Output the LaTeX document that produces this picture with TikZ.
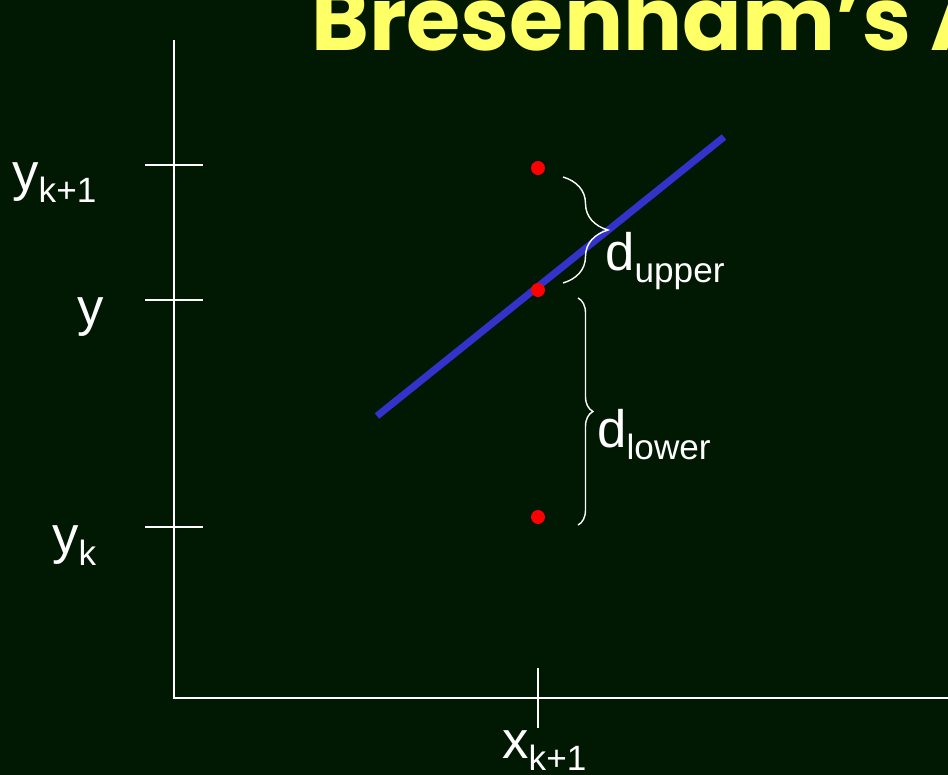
\documentclass[tikz,border=0pt]{standalone}
\usepackage{fontspec}
\setmainfont{Liberation Sans}
\newfontfamily\titlefont{Poppins}
\usepackage{xcolor}
\usepackage{tikz}
\usetikzlibrary{decorations.pathreplacing, positioning, calc}
\definecolor{boardgreen}{RGB}{1, 24, 3}
\definecolor{titleyellow}{RGB}{255, 255, 102}
\definecolor{lineblue}{RGB}{51, 51, 204}
\newcommand{\sublbl}[2]{#1\raisebox{-7pt}{\fontsize{20}{20}\selectfont #2}}

\begin{document}
\begin{tikzpicture}[
    x=0.02cm, y=-0.02cm,
    axisline/.style={draw=white, line width=1.1pt},
    tickmark/.style={draw=white, line width=1.1pt},
    axislabel/.style={text=white, inner sep=0pt, anchor=base west, font=\fontsize{30}{30}\selectfont},
    pixel/.style={circle, fill=red, inner sep=0pt, minimum size=0.28cm},
    bracemark/.style={draw=white, line width=0.8pt, decorate, decoration={brace, amplitude=#1}}
]
    \useasboundingbox (0,0) rectangle (948,775);
    \clip (0,0) rectangle (948,775);
    \fill[boardgreen] (0,0) rectangle (948,775);

    % title
    \node[anchor=base west, inner sep=0pt, text=titleyellow, font=\titlefont\bfseries\fontsize{50}{50}\selectfont] (title) at (311,50) {Bresenham’s A};

    % axes
    \coordinate (origin) at (174,698);
    \coordinate (ytop) at (174,40);
    \coordinate (xend) at (948,698);
    \draw[axisline] (ytop) -- (origin) -- (xend);

    % ticks
    \foreach \ty in {165, 300, 527} {
        \draw[tickmark] (145,\ty) -- (203,\ty);
    }
    \draw[tickmark] (538,668) -- (538,728);

    % axis labels
    \node[axislabel] (lyk1) at (12,190) {\sublbl{y}{k+1}};
    \node[axislabel] (ly) at (77,325) {y};
    \node[axislabel] (lyk) at (52,553) {\sublbl{y}{k}};
    \node[axislabel] (lxk1) at (502,758) {\sublbl{x}{k+1}};

    % the line
    \coordinate (lstart) at (377,416);
    \coordinate (lend) at (724,137);
    \draw[lineblue, line width=4pt] (lstart) -- (lend);

    % candidate pixels
    \node[pixel] (pup) at (538,168) {};
    \node[pixel] (pmid) at (538,290) {};
    \node[pixel] (plow) at (538,517) {};

    % distances
    \draw[bracemark=0.9cm] (563,177) -- (563,283);
    \draw[bracemark=0.3cm] (578,298) -- (578,525);
    \node[axislabel] (dup) at (605,270) {\sublbl{d}{upper}};
    \node[axislabel] (dlow) at (597,447) {\sublbl{d}{lower}};
\end{tikzpicture}
\end{document}
